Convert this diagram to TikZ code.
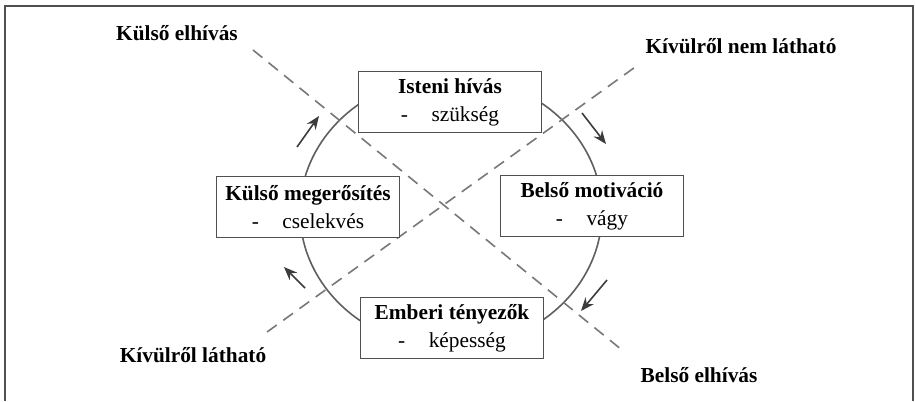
\documentclass[tikz,border=0pt]{standalone}
\usepackage{fontspec}
\setmainfont{Liberation Serif}
\usetikzlibrary{arrows.meta}
\definecolor{rahmen}{RGB}{80,80,80}
\definecolor{kreis}{RGB}{95,95,95}
\definecolor{strich}{RGB}{120,120,120}
\definecolor{nyilszin}{RGB}{60,60,60}

\begin{document}
\begin{tikzpicture}[x=0.75pt,y=-0.75pt,
	doboz/.style={draw=rahmen, line width=1.1pt, fill=white, minimum width=137pt, minimum height=45.5pt, align=center, inner sep=2pt, font=\fontsize{16}{21}\selectfont},
	felirat/.style={font=\fontsize{16}{19}\selectfont\bfseries},
	szaggatott/.style={draw=strich, line width=1.2pt, dash pattern=on 9pt off 6pt},
	nyil/.style={draw=nyilszin, line width=1.2pt, -{Stealth[length=10pt,width=8pt]}}]

	\useasboundingbox (0,0) rectangle (915,401);

	% keret
	\draw[rahmen, line width=1.1pt] (5,401) -- (5,6) -- (913,6) -- (913,401);

	% kor
	\coordinate (kozep) at (451,212);
	\draw[kreis, line width=1.2pt] (kozep) ellipse [x radius=151, y radius=136];

	% szaggatott vonalak
	\coordinate (kulso1) at (253,50);
	\coordinate (belso1) at (622,350);
	\coordinate (lathato1) at (267,332);
	\coordinate (nemlathato1) at (638,65);
	\draw[szaggatott] (kulso1) -- (belso1);
	\draw[szaggatott] (lathato1) -- (nemlathato1);

	% nyilak
	\coordinate (a1) at (297,147);
	\coordinate (a2) at (319,116);
	\coordinate (b1) at (582,113);
	\coordinate (b2) at (606,144);
	\coordinate (c1) at (607,280);
	\coordinate (c2) at (581,311);
	\coordinate (d1) at (305,288);
	\coordinate (d2) at (284,267);
	\draw[nyil] (a1) -- (a2);
	\draw[nyil] (b1) -- (b2);
	\draw[nyil] (c1) -- (c2);
	\draw[nyil] (d1) -- (d2);

	% dobozok
	\node[doboz] (isten) at (450,102) {\textbf{Isteni hívás}\\-\hspace{1.1em}szükség};
	\node[doboz] (motivacio) at (592,206) {\textbf{Belső motiváció}\\-\hspace{1.1em}vágy};
	\node[doboz] (ember) at (452,328) {\textbf{Emberi tényezők}\\-\hspace{1.1em}képesség};
	\node[doboz] (megerosites) at (308,207) {\textbf{Külső megerősítés}\\-\hspace{1.1em}cselekvés};

	% feliratok
	\node[felirat] (kulsoelh) at (177,33) {Külső elhívás};
	\node[felirat] (nemlathato) at (741,46) {Kívülről nem látható};
	\node[felirat] (lathato) at (193,355) {Kívülről látható};
	\node[felirat] (belsoelh) at (699,375) {Belső elhívás};

\end{tikzpicture}
\end{document}
